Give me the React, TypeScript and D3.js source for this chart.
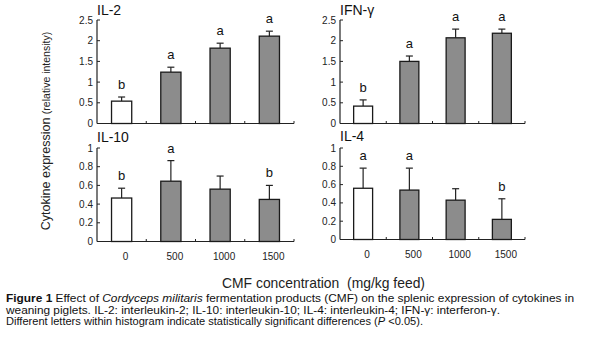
import React from "react";
import * as d3 from "d3";

const categories = ["0", "500", "1000", "1500"];

const il2Values = [0.54, 1.24, 1.82, 2.11];
const il2Errors = [0.1, 0.12, 0.12, 0.12];
const il2Letters = ["b", "a", "a", "a"];

const ifnValues = [0.42, 1.5, 2.07, 2.18];
const ifnErrors = [0.15, 0.13, 0.21, 0.1];
const ifnLetters = ["b", "a", "a", "a"];

const il10Values = [0.465, 0.645, 0.56, 0.45];
const il10Errors = [0.105, 0.22, 0.14, 0.15];
const il10Letters = ["b", "a", "", "b"];

const il4Values = [0.56, 0.54, 0.43, 0.22];
const il4Errors = [0.22, 0.24, 0.125, 0.225];
const il4Letters = ["a", "a", "", "b"];

const topTicks = [0, 0.5, 1, 1.5, 2, 2.5];
const bottomTicks = [0, 0.2, 0.4, 0.6, 0.8, 1];

const FONT = "'Liberation Sans', Arial, Helvetica, sans-serif";

type PanelProps = {
  title: string;
  values: number[];
  errors: number[];
  letters: string[];
  ticks: number[];
  yMax: number;
  x0: number;
  x1: number;
  yBottom: number;
  yTop: number;
  titleY: number;
  showXLabels: boolean;
  xLabelY: number;
};

function Panel(p: PanelProps) {
  const x = d3.scaleBand<string>().domain(categories).range([p.x0, p.x1]).padding(0);
  const y = d3.scaleLinear().domain([0, p.yMax]).range([p.yBottom, p.yTop]);
  const bw = x.bandwidth() * 0.41;
  const fmt = (v: number) => d3.format("~g")(v);
  return (
    <g fontFamily={FONT}>
      <text x={p.x0} y={p.titleY} fontSize={14} fill="#111">
        {p.title}
      </text>
      <line x1={p.x0} x2={p.x0} y1={y(p.yMax)} y2={y(0)} stroke="#222" strokeWidth={1.2} />
      {p.ticks.map((t) => (
        <g key={t}>
          <line x1={p.x0} x2={p.x0 + 3} y1={y(t)} y2={y(t)} stroke="#222" strokeWidth={1} />
          <text x={p.x0 - 4} y={y(t)} dy="0.35em" textAnchor="end" fontSize={10} fill="#222">
            {fmt(t)}
          </text>
        </g>
      ))}
      <line x1={p.x0} x2={p.x1} y1={y(0)} y2={y(0)} stroke="#222" strokeWidth={1.2} />
      {categories.map((c) => (
        <line
          key={"xt" + c}
          x1={(x(c) as number) + x.bandwidth()}
          x2={(x(c) as number) + x.bandwidth()}
          y1={y(0)}
          y2={y(0) - 2.5}
          stroke="#222"
          strokeWidth={1}
        />
      ))}
      {categories.map((c, i) => {
        const cx = (x(c) as number) + x.bandwidth() / 2;
        const top = y(p.values[i]);
        const errTop = y(p.values[i] + p.errors[i]);
        return (
          <g key={c}>
            <line x1={cx} x2={cx} y1={top} y2={errTop} stroke="#222" strokeWidth={1.2} />
            <line x1={cx - 3.5} x2={cx + 3.5} y1={errTop} y2={errTop} stroke="#222" strokeWidth={1.2} />
            <rect
              x={cx - bw / 2}
              y={top}
              width={bw}
              height={y(0) - top}
              fill={i === 0 ? "#ffffff" : "#8c8c8c"}
              stroke="#1a1a1a"
              strokeWidth={1.3}
            />
            {p.letters[i] && (
              <text x={cx} y={errTop - 8} textAnchor="middle" fontSize={13} fill="#111">
                {p.letters[i]}
              </text>
            )}
            {p.showXLabels && (
              <text x={cx + 4} y={p.xLabelY} textAnchor="middle" fontSize={10} fill="#222">
                {c}
              </text>
            )}
          </g>
        );
      })}
    </g>
  );
}

export default function App() {
  return (
    <svg
      width={600}
      height={344}
      style={{ position: "absolute", left: 0, top: 0, background: "#fff" }}
    >
      <rect width={600} height={344} fill="#fff" />
      <Panel
        title="IL-2"
        values={il2Values}
        errors={il2Errors}
        letters={il2Letters}
        ticks={topTicks}
        yMax={2.5}
        x0={97}
        x1={294}
        yBottom={123.5}
        yTop={20}
        titleY={15}
        showXLabels={false}
        xLabelY={0}
      />
      <Panel
        title="IFN-γ"
        values={ifnValues}
        errors={ifnErrors}
        letters={ifnLetters}
        ticks={topTicks}
        yMax={2.5}
        x0={340}
        x1={525}
        yBottom={123.5}
        yTop={20}
        titleY={15}
        showXLabels={false}
        xLabelY={0}
      />
      <Panel
        title="IL-10"
        values={il10Values}
        errors={il10Errors}
        letters={il10Letters}
        ticks={bottomTicks}
        yMax={1}
        x0={97}
        x1={294}
        yBottom={241.5}
        yTop={148}
        titleY={142}
        showXLabels={true}
        xLabelY={260}
      />
      <Panel
        title="IL-4"
        values={il4Values}
        errors={il4Errors}
        letters={il4Letters}
        ticks={bottomTicks}
        yMax={1}
        x0={340}
        x1={525}
        yBottom={239.5}
        yTop={148}
        titleY={141}
        showXLabels={true}
        xLabelY={258}
      />
      <text
        transform="translate(50,131) rotate(-90)"
        textAnchor="middle"
        fontFamily={FONT}
        fill="#222"
      >
        <tspan fontSize={12.5}>Cytokine expression </tspan>
        <tspan fontSize={10.5}>(relative intensity)</tspan>
      </text>
      <text
        x={222}
        y={288}
        fontFamily={FONT}
        fontSize={15}
        fill="#222"
        textLength={203}
        lengthAdjust="spacingAndGlyphs"
        style={{ whiteSpace: "pre" }}
      >
        {"CMF concentration  (mg/kg feed)"}
      </text>
      <text x={6} y={302} fontFamily={FONT} fontSize={11.5} fill="#111" textLength={568} lengthAdjust="spacingAndGlyphs">
        <tspan fontWeight="bold">Figure 1</tspan>
        <tspan> Effect of </tspan>
        <tspan fontStyle="italic">Cordyceps militaris</tspan>
        <tspan> fermentation products (CMF) on the splenic expression of cytokines in</tspan>
      </text>
      <text x={6} y={314} fontFamily={FONT} fontSize={11.5} fill="#111" textLength={494} lengthAdjust="spacingAndGlyphs">
        weaning piglets. IL-2: interleukin-2; IL-10: interleukin-10; IL-4: interleukin-4; IFN-γ: interferon-γ.
      </text>
      <text x={6} y={325} fontFamily={FONT} fontSize={10} fill="#111" textLength={417} lengthAdjust="spacingAndGlyphs">
        <tspan>Different letters within histogram indicate statistically significant differences (</tspan>
        <tspan fontStyle="italic">P</tspan>
        <tspan> &lt;0.05).</tspan>
      </text>
    </svg>
  );
}
